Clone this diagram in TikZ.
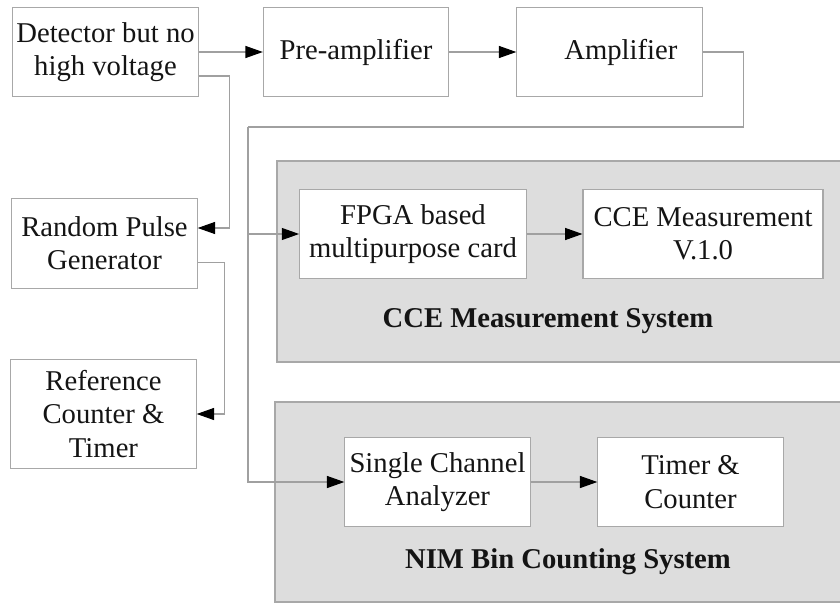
\documentclass[tikz,border=0pt]{standalone}
\usepackage{fontspec}
\setmainfont{Liberation Serif}
\usetikzlibrary{arrows.meta,calc}
\definecolor{panel}{RGB}{221,221,221}
\definecolor{frame}{RGB}{168,168,168}
\definecolor{lead}{RGB}{160,160,160}
\definecolor{ink}{RGB}{20,20,20}

\begin{document}
\begin{tikzpicture}[x=0.75pt,y=-0.75pt,
    blk/.style={draw=frame,fill=white,line width=0.8pt,align=center,inner sep=2pt,
      minimum width=139pt,minimum height=67pt,text=ink,font=\fontsize{21.5}{25}\selectfont},
    sys/.style={draw=frame,fill=panel,line width=0.9pt},
    syslbl/.style={text=ink,font=\fontsize{21.5}{25}\selectfont\bfseries},
    wire/.style={draw=lead,line width=0.8pt},
    conn/.style={wire,-{Triangle[length=13pt,width=9pt,color=black]}}]
  \useasboundingbox (0,0) rectangle (840,604);
  % grey system panels
  \draw[sys] (277,161) rectangle (852,362);
  \draw[sys] (275,402) rectangle (852,602);
  \node[syslbl] (cceLbl) at (548,321) {CCE Measurement System};
  \node[syslbl] (nimLbl) at (568,562) {NIM Bin Counting System};
  % blocks
  \node[blk] (det) at (105.5,52) {Detector but no\\high voltage};
  \node[blk] (pre) at (356,52) {Pre-amplifier};
  \node[blk] (amp) at (609.5,52) {\hspace*{17pt}Amplifier};
  \node[blk] (rpg) at (104.5,243.5) {Random Pulse\\Generator};
  \node[blk,minimum height=82pt] (ref) at (103.5,414) {Reference\\Counter \&\\Timer};
  \node[blk,minimum width=170pt] (fpga) at (413,234) {FPGA based\\multipurpose card};
  \node[blk,minimum width=180pt] (cce) at (703,234) {CCE Measurement\\V.1.0};
  \node[blk] (sca) at (437.5,482) {Single Channel\\Analyzer};
  \node[blk] (tc) at (690.5,482) {Timer \&\\Counter};
  \coordinate (bend) at (248,127);
  % signal chain
  \draw[conn] (det) -- (pre);
  \draw[conn] (pre) -- (amp);
  \draw[wire] (amp.east) -- ++(41,0) |- (bend);
  \draw[conn] (bend) |- (fpga.west);
  \draw[conn] (bend) |- (sca.west);
  \draw[conn] (fpga) -- (cce);
  \draw[conn] (sca) -- (tc);
  % pulser and reference
  \draw[conn] ($(det.east)+(0,24)$) -- ++(31,0) |- ($(rpg.east)+(0,-15.5)$);
  \draw[conn] ($(rpg.east)+(0,19)$) -- ++(27,0) |- (ref.east);
\end{tikzpicture}
\end{document}
